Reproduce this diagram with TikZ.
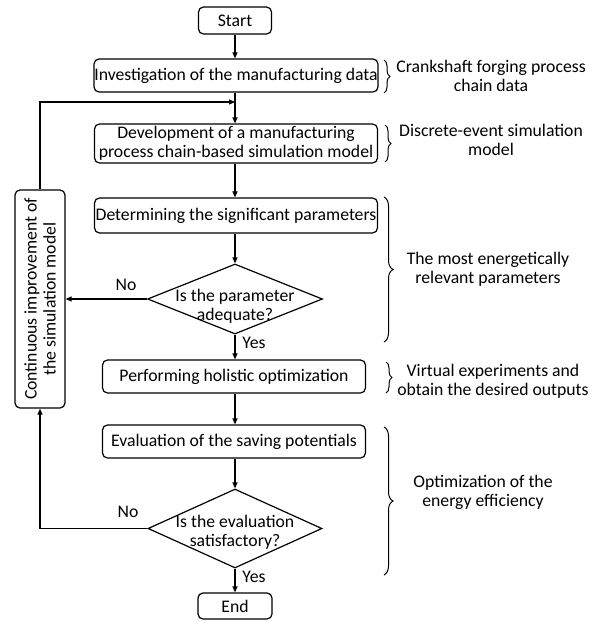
\documentclass[tikz,border=0pt]{standalone}
\usepackage{fontspec}
\setmainfont{Carlito}
\usetikzlibrary{shapes.geometric,arrows.meta,decorations.pathreplacing}
\begin{document}
\begin{tikzpicture}[x=1pt,y=-1pt,
  every node/.style={font=\fontsize{17.7}{19}\selectfont},
  box/.style={draw, rounded corners=5pt, line width=1.2pt, inner sep=0pt, align=center},
  dia/.style={draw, diamond, line width=1.2pt, inner sep=0pt},
  arr/.style={line width=1.1pt, -{Triangle[length=6pt,width=5pt]}},
  brc/.style={decorate, decoration={brace, amplitude=#1}, line width=1pt},
  note/.style={align=center, inner sep=0pt}
]
\useasboundingbox (0,0) rectangle (592,621);

% main flow
\node[box, minimum width=73pt, minimum height=27pt] (start) at (235,20.5) {Start};
\node[box, minimum width=284pt, minimum height=33pt] (inv) at (236,75.5) {Investigation of the manufacturing data};
\node[box, minimum width=283pt, minimum height=39pt] (dev) at (236,143.5) {Development of a manufacturing\\process chain-based simulation model};
\node[box, minimum width=283pt, minimum height=35pt] (det) at (236,215.5) {Determining the significant parameters};
\node[dia, minimum width=175pt, minimum height=70pt] (d1) at (235,299) {};
\node[note] (d1t) at (235,306) {Is the parameter\\adequate?};
\node[box, minimum width=263pt, minimum height=33pt] (perf) at (234,376.5) {Performing holistic optimization};
\node[box, minimum width=263pt, minimum height=33pt] (eval) at (234,441.5) {Evaluation of the saving potentials};
\node[dia, minimum width=174pt, minimum height=79pt] (d2) at (235,528.5) {};
\node[note] (d2t) at (235,532) {Is the evaluation\\satisfactory?};
\node[box, minimum width=74pt, minimum height=26pt] (end) at (235,606) {End};

% feedback box
\node[box, minimum width=50pt, minimum height=218pt] (cont) at (40,299) {};
\node[note, rotate=90] (contt) at (40,299) {Continuous improvement of\\the simulation model};

% labels
\node (no1) at (126,285) {No};
\node (yes1) at (254,343) {Yes};
\node (no2) at (128,512) {No};
\node (yes2) at (254,577) {Yes};

% connectors
\coordinate (j) at (235,102);
\draw[arr] (start) -- (start |- inv.north);
\draw[arr] (start |- inv.south) -- (start |- dev.north);
\draw[arr] (cont.north) |- (j);
\draw[arr] (start |- dev.south) -- (start |- det.north);
\draw[arr] (start |- det.south) -- (d1);
\draw[arr] (d1) -- (d1 |- perf.north);
\draw[arr] (d1.west) -- (cont.east);
\draw[arr] (d1 |- perf.south) -- (d1 |- eval.north);
\draw[arr] (d1 |- eval.south) -- (d2);
\draw[arr] (d2) -- (end);
\draw[arr] (d2.west) -| (cont.south);

% braces
\draw[brc=6pt] (384,60) -- (384,93);
\draw[brc=6pt] (385,125) -- (385,162);
\draw[brc=9pt] (384,197) -- (384,342);
\draw[brc=6pt] (386,362) -- (386,393);
\draw[brc=9pt] (384,427) -- (384,575);

% right-hand notes
\node[note] (r1) at (491,76) {Crankshaft forging process\\chain data};
\node[note] (r2) at (491,140) {Discrete-event simulation\\model};
\node[note] (r3) at (488,269) {The most energetically\\relevant parameters};
\node[note] (r4) at (493,381) {Virtual experiments and\\obtain the desired outputs};
\node[note] (r5) at (483,492) {Optimization of the\\energy efficiency};
\end{tikzpicture}
\end{document}
